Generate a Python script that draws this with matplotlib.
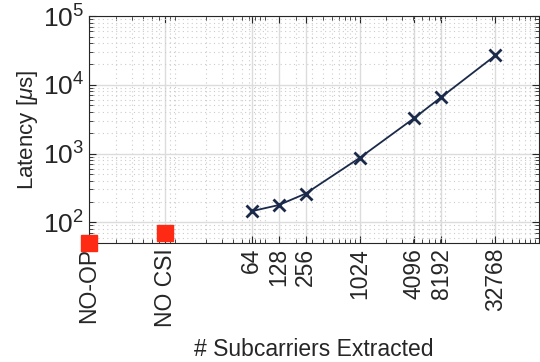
import matplotlib
matplotlib.use("Agg")
import matplotlib.pyplot as plt
from matplotlib.ticker import LogLocator, NullFormatter, FixedLocator

plt.rcParams['font.family'] = ['Liberation Sans', 'DejaVu Sans']
plt.rcParams['mathtext.fontset'] = 'custom'
plt.rcParams['mathtext.rm'] = 'Liberation Sans'
plt.rcParams['mathtext.it'] = 'Liberation Sans:italic'

# Data
sub_x = [64, 128, 256, 1024, 4096, 8192, 32768]
sub_latency = [145, 178, 262, 870, 3270, 6600, 26700]
base_x = [1, 7]
base_latency = [50, 71]
tick_pos = [1, 7, 64, 128, 256, 1024, 4096, 8192, 32768]
tick_labels = ['NO-OP', 'NO CSI', '64', '128', '256', '1024', '4096', '8192', '32768']

txt = '#262626'
navy = '#1b2a4a'
red = '#ff2a14'

fig = plt.figure(figsize=(5.4, 3.62), dpi=100)
ax = fig.add_axes([89/540, 1-243/362, 450/540, 227/362])
ax.set_xscale('log')
ax.set_yscale('log')
ax.set_xlim(1, 1e5)
ax.set_ylim(50, 1e5)

ax.plot(sub_x, sub_latency, color=navy, lw=1.3, marker='x', ms=9, mew=2, zorder=4)
ax.plot(base_x, base_latency, ls='none', marker='s', ms=11, color=red, mec=red,
        clip_on=False, zorder=5)

ax.xaxis.set_major_locator(FixedLocator(tick_pos))
ax.set_xticklabels(tick_labels, rotation=90)
ax.xaxis.set_minor_locator(LogLocator(base=10, subs=range(2, 10)))
ax.xaxis.set_minor_formatter(NullFormatter())
ax.yaxis.set_major_locator(LogLocator(base=10, numticks=10))
ax.yaxis.set_minor_locator(LogLocator(base=10, subs=range(2, 10), numticks=10))
ax.yaxis.set_minor_formatter(NullFormatter())

ax.grid(which='major', color='#dcdcdc', lw=1.0, ls='-', zorder=0)
ax.grid(which='minor', color='#cccccc', lw=0.8, ls=(0, (1, 3)), zorder=0)
ax.set_axisbelow(True)

ax.tick_params(which='both', direction='in', top=True, right=True, colors=txt,
               labelcolor=txt)
ax.tick_params(which='major', length=5, width=0.8, labelsize=16.5)
ax.tick_params(which='minor', length=3, width=0.6)
ax.tick_params(axis='y', which='major', labelsize=19)
for s in ax.spines.values():
    s.set_color(txt)
    s.set_linewidth(0.8)

ax.set_ylabel(r'Latency [$\mu$s]', fontsize=16, color=txt, labelpad=2)
ax.set_xlabel('# Subcarriers Extracted', fontsize=16.5, color=txt, labelpad=8)

fig.savefig('out.png', dpi=100)
